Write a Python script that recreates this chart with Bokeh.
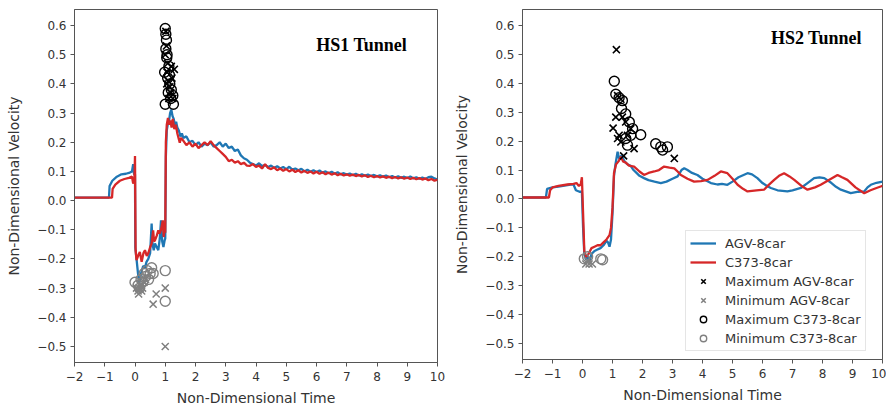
from bokeh.plotting import figure
from bokeh.layouts import row
from bokeh.models import Range1d, FixedTicker, Label, Legend, LegendItem
from bokeh.embed import file_html
from bokeh.resources import INLINE

# ---------------- data ----------------
X_TICKS = [-2, -1, 0, 1, 2, 3, 4, 5, 6, 7, 8, 9, 10]
X_TICK_LABELS = ["\u22122", "\u22121", "0", "1", "2", "3", "4", "5", "6", "7", "8", "9", "10"]
Y_TICKS = [-0.5, -0.4, -0.3, -0.2, -0.1, 0.0, 0.1, 0.2, 0.3, 0.4, 0.5, 0.6]
Y_TICK_LABELS = ["\u22120.5", "\u22120.4", "\u22120.3", "\u22120.2", "\u22120.1", "0.0",
                 "0.1", "0.2", "0.3", "0.4", "0.5", "0.6"]

PANEL_TITLES = ["HS1 Tunnel", "HS2 Tunnel"]
SERIES_NAMES = ["AGV-8car", "C373-8car", "Maximum AGV-8car", "Minimum AGV-8car",
                "Maximum C373-8car", "Minimum C373-8car"]

# HS1 tunnel, AGV-8car line
hs1_agv_t = [-2.0, -0.86, -0.84, -0.75, -0.6, -0.45, -0.3, -0.17, -0.1, -0.06, -0.03, 0.0,
             0.01, 0.05, 0.1, 0.14, 0.2, 0.27, 0.33, 0.38, 0.44, 0.5, 0.55, 0.58, 0.62, 0.66,
             0.72, 0.77, 0.82, 0.86, 0.9, 0.94, 0.98, 1.0, 1.02, 1.05, 1.08, 1.12, 1.16, 1.2,
             1.24, 1.28, 1.32, 1.36, 1.4, 1.45, 1.5, 1.55, 1.6, 1.7, 1.8, 1.9, 2.0, 2.1, 2.2,
             2.3, 2.4, 2.5, 2.6, 2.7, 2.8, 2.9, 3.0, 3.1, 3.2, 3.3, 3.4, 3.5, 3.6, 3.7, 3.8,
             3.9, 4.0, 4.1, 4.2, 4.3, 4.4, 4.5, 4.6, 4.7, 4.8, 4.9, 5.0, 5.1, 5.2, 5.3, 5.4,
             5.5, 5.6, 5.7, 5.8, 5.9, 6.0, 6.1, 6.2, 6.3, 6.4, 6.5, 6.6, 6.7, 6.8, 6.9, 7.0,
             7.1, 7.2, 7.3, 7.4, 7.5, 7.6, 7.7, 7.8, 7.9, 8.0, 8.1, 8.2, 8.3, 8.4, 8.5, 8.6,
             8.7, 8.8, 8.9, 9.0, 9.1, 9.2, 9.3, 9.4, 9.5, 9.6, 9.7, 9.8, 9.9, 10.0]
hs1_agv_v = [0.01, 0.01, 0.05, 0.068, 0.082, 0.09, 0.092, 0.096, 0.1, 0.125, 0.09, 0.09,
             -0.16, -0.2, -0.25, -0.283, -0.25, -0.224, -0.23, -0.21, -0.2, -0.18, -0.079, -0.15,
             -0.17, -0.147, -0.16, -0.17, -0.13, -0.068, -0.14, -0.159, -0.136, -0.13, 0.15, 0.24,
             0.26, 0.27, 0.3, 0.312, 0.29, 0.28, 0.26, 0.27, 0.25, 0.24, 0.22, 0.23, 0.215, 0.22,
             0.2, 0.205, 0.19, 0.2, 0.185, 0.195, 0.19, 0.2, 0.185, 0.19, 0.2, 0.185, 0.195, 0.18,
             0.185, 0.17, 0.175, 0.155, 0.145, 0.14, 0.13, 0.125, 0.12, 0.128, 0.118, 0.122,
             0.115, 0.12, 0.112, 0.118, 0.11, 0.115, 0.108, 0.116, 0.106, 0.11, 0.104, 0.109,
             0.1, 0.106, 0.099, 0.104, 0.098, 0.103, 0.096, 0.1, 0.094, 0.099, 0.092, 0.097,
             0.09, 0.094, 0.089, 0.093, 0.087, 0.092, 0.086, 0.09, 0.085, 0.089, 0.084, 0.088,
             0.083, 0.087, 0.082, 0.086, 0.08, 0.084, 0.079, 0.083, 0.078, 0.082, 0.077, 0.083,
             0.076, 0.08, 0.075, 0.079, 0.074, 0.08, 0.082, 0.076, 0.072]

# HS1 tunnel, C373-8car line
hs1_c373_t = [-2.0, -0.76, -0.74, -0.65, -0.5, -0.35, -0.2, -0.1, -0.06, -0.02, 0.0, 0.02,
              0.05, 0.1, 0.16, 0.22, 0.28, 0.33, 0.39, 0.44, 0.5, 0.55, 0.6, 0.63, 0.66, 0.72,
              0.77, 0.81, 0.86, 0.92, 0.95, 0.98, 1.0, 1.02, 1.05, 1.09, 1.13, 1.17, 1.21, 1.25,
              1.3, 1.35, 1.4, 1.45, 1.48, 1.52, 1.6, 1.7, 1.8, 1.9, 2.0, 2.1, 2.2, 2.3, 2.4, 2.5,
              2.6, 2.7, 2.8, 2.9, 3.0, 3.1, 3.2, 3.3, 3.4, 3.5, 3.6, 3.7, 3.8, 3.9, 4.0, 4.1,
              4.2, 4.3, 4.4, 4.5, 4.6, 4.7, 4.8, 4.9, 5.0, 5.1, 5.2, 5.3, 5.4, 5.5, 5.6, 5.7,
              5.8, 5.9, 6.0, 6.1, 6.2, 6.3, 6.4, 6.5, 6.6, 6.7, 6.8, 6.9, 7.0, 7.1, 7.2, 7.3,
              7.4, 7.5, 7.6, 7.7, 7.8, 7.9, 8.0, 8.1, 8.2, 8.3, 8.4, 8.5, 8.6, 8.7, 8.8, 8.9,
              9.0, 9.1, 9.2, 9.3, 9.4, 9.5, 9.6, 9.7, 9.8, 9.9, 10.0]
hs1_c373_v = [0.01, 0.01, 0.04, 0.055, 0.068, 0.074, 0.078, 0.082, 0.058, 0.07, 0.153, -0.17,
              -0.204, -0.19, -0.176, -0.21, -0.18, -0.17, -0.19, -0.18, -0.16, -0.147, -0.102,
              -0.14, -0.136, -0.12, -0.102, -0.113, -0.1, -0.068, -0.125, -0.1, -0.11, 0.2, 0.26,
              0.283, 0.26, 0.275, 0.25, 0.28, 0.245, 0.26, 0.23, 0.21, 0.198, 0.215, 0.205, 0.19,
              0.2, 0.185, 0.195, 0.18, 0.19, 0.2, 0.19, 0.204, 0.19, 0.18, 0.17, 0.16, 0.15,
              0.135, 0.14, 0.13, 0.135, 0.125, 0.13, 0.12, 0.119, 0.125, 0.115, 0.12, 0.11,
              0.125, 0.112, 0.108, 0.114, 0.104, 0.11, 0.102, 0.108, 0.1, 0.106, 0.098, 0.104,
              0.096, 0.102, 0.095, 0.1, 0.093, 0.099, 0.092, 0.097, 0.09, 0.096, 0.089, 0.094,
              0.087, 0.092, 0.086, 0.09, 0.085, 0.089, 0.084, 0.088, 0.083, 0.087, 0.081, 0.085,
              0.08, 0.084, 0.079, 0.083, 0.078, 0.082, 0.077, 0.081, 0.076, 0.08, 0.075, 0.079,
              0.074, 0.078, 0.073, 0.077, 0.072, 0.076, 0.07, 0.074, 0.068, 0.072, 0.066, 0.068]

# HS2 tunnel, AGV-8car line
hs2_agv_t = [-2.0, -1.22, -1.18, -1.0, -0.8, -0.6, -0.4, -0.3, -0.22, -0.1, -0.02, 0.02,
             0.06, 0.12, 0.18, 0.24, 0.3, 0.4, 0.5, 0.6, 0.7, 0.8, 0.85, 0.9, 0.95, 1.0, 1.05,
             1.1, 1.17, 1.22, 1.3, 1.4, 1.5, 1.6, 1.7, 1.8, 1.9, 2.05, 2.2, 2.4, 2.61, 2.8, 3.0,
             3.17, 3.3, 3.39, 3.5, 3.65, 3.83, 4.0, 4.15, 4.28, 4.5, 4.65, 4.83, 5.0, 5.2, 5.35,
             5.5, 5.65, 5.83, 6.0, 6.15, 6.28, 6.5, 6.83, 7.0, 7.28, 7.5, 7.72, 7.9, 8.06, 8.3,
             8.45, 8.61, 8.94, 9.2, 9.39, 9.5, 9.61, 9.8, 10.0]
hs2_agv_v = [0.005, 0.005, 0.035, 0.04, 0.043, 0.046, 0.05, 0.05, 0.03, 0.025, 0.025, -0.1,
             -0.19, -0.21, -0.2, -0.215, -0.19, -0.18, -0.175, -0.17, -0.16, -0.145, -0.15,
             -0.165, -0.14, -0.05, 0.08, 0.12, 0.163, 0.14, 0.15, 0.13, 0.12, 0.115, 0.1, 0.09,
             0.08, 0.072, 0.065, 0.06, 0.055, 0.06, 0.07, 0.078, 0.1, 0.106, 0.1, 0.09, 0.083,
             0.07, 0.062, 0.055, 0.05, 0.052, 0.049, 0.06, 0.075, 0.082, 0.089, 0.085, 0.072,
             0.055, 0.045, 0.038, 0.03, 0.026, 0.03, 0.038, 0.055, 0.072, 0.075, 0.072, 0.055,
             0.042, 0.032, 0.02, 0.025, 0.026, 0.04, 0.049, 0.056, 0.06]

# HS2 tunnel, C373-8car line
hs2_c373_t = [-2.0, -1.12, -1.08, -1.0, -0.8, -0.5, -0.3, -0.2, -0.12, -0.06, -0.02, 0.02,
              0.06, 0.12, 0.2, 0.3, 0.4, 0.5, 0.6, 0.7, 0.8, 0.9, 0.95, 1.0, 1.05, 1.12, 1.2,
              1.28, 1.35, 1.45, 1.55, 1.72, 1.9, 2.05, 2.2, 2.39, 2.55, 2.72, 2.9, 3.06, 3.17,
              3.28, 3.5, 3.72, 3.95, 4.17, 4.4, 4.61, 4.83, 5.0, 5.17, 5.35, 5.5, 5.8, 6.05, 6.2,
              6.39, 6.55, 6.72, 6.9, 7.06, 7.3, 7.5, 7.75, 7.94, 8.2, 8.5, 8.65, 8.83, 9.1, 9.39,
              9.6, 9.8, 9.94, 10.0]
hs2_c373_v = [0.005, 0.005, 0.03, 0.04, 0.045, 0.05, 0.052, 0.055, 0.045, 0.05, 0.075, -0.05,
              -0.18, -0.2, -0.19, -0.17, -0.165, -0.16, -0.16, -0.15, -0.14, -0.125, -0.1,
              -0.03, 0.09, 0.12, 0.13, 0.146, 0.13, 0.125, 0.115, 0.112, 0.095, 0.083, 0.09,
              0.095, 0.1, 0.112, 0.108, 0.106, 0.095, 0.083, 0.07, 0.06, 0.062, 0.066, 0.08,
              0.095, 0.089, 0.07, 0.049, 0.035, 0.026, 0.03, 0.032, 0.048, 0.066, 0.08, 0.089,
              0.078, 0.066, 0.045, 0.032, 0.04, 0.049, 0.065, 0.083, 0.075, 0.066, 0.04, 0.02,
              0.03, 0.038, 0.043, 0.045]

# HS1 tunnel scatter points
hs1_max_agv_t = [1.02, 1.04, 1.0, 1.08, 1.3, 1.2, 1.06, 1.1, 1.15, 1.22, 1.18, 1.25, 1.12, 1.05]
hs1_max_agv_v = [0.58, 0.53, 0.5, 0.47, 0.45, 0.46, 0.44, 0.41, 0.39, 0.42, 0.37, 0.35, 0.35, 0.4]
hs1_min_agv_t = [0.05, 0.1, 0.15, 0.2, 0.25, 0.3, 0.12, 0.6, 0.7, 1.0, 1.0, 0.35, 0.22]
hs1_min_agv_v = [-0.3, -0.31, -0.3, -0.29, -0.3, -0.28, -0.32, -0.355, -0.32, -0.3, -0.5, -0.27, -0.31]
hs1_max_c373_t = [1.0, 1.02, 1.04, 1.02, 1.05, 0.98, 1.08, 1.12, 1.15, 1.2, 1.1, 1.25, 1.18,
                  1.0, 1.27, 1.06, 1.14]
hs1_max_c373_v = [0.59, 0.57, 0.55, 0.52, 0.49, 0.44, 0.42, 0.46, 0.4, 0.38, 0.37, 0.36, 0.35,
                  0.33, 0.33, 0.5, 0.43]
hs1_min_c373_t = [0.0, 0.1, 0.2, 0.3, 0.4, 0.5, 0.6, 0.45, 0.35, 0.55, 0.25, 1.0, 1.0, 0.15]
hs1_min_c373_v = [-0.28, -0.29, -0.27, -0.25, -0.24, -0.25, -0.25, -0.27, -0.26, -0.23, -0.28,
                  -0.24, -0.345, -0.3]

# HS2 tunnel scatter points
hs2_max_agv_t = [1.13, 1.02, 1.17, 1.28, 1.33, 1.17, 1.28, 1.44, 1.5, 1.72, 1.37, 3.06, 1.11,
                 1.22, 1.61]
hs2_max_agv_v = [0.516, 0.245, 0.357, 0.345, 0.283, 0.209, 0.197, 0.266, 0.22, 0.174, 0.149,
                 0.14, 0.283, 0.22, 0.243]
hs2_min_agv_t = [0.11, 0.22, 0.33, 0.17]
hs2_min_agv_v = [-0.225, -0.225, -0.225, -0.213]
hs2_max_c373_t = [1.06, 1.11, 1.22, 1.33, 1.3, 1.44, 1.56, 1.67, 1.94, 2.44, 2.61, 2.83, 2.67,
                  1.61, 1.44, 1.5]
hs2_max_c373_v = [0.407, 0.362, 0.35, 0.34, 0.313, 0.294, 0.266, 0.243, 0.222, 0.191, 0.18,
                  0.18, 0.169, 0.22, 0.209, 0.186]
hs2_min_c373_t = [0.17, 0.67, 0.61, 0.06]
hs2_min_c373_v = [-0.2, -0.21, -0.207, -0.207]

# ---------------- styling ----------------
BLUE = "#1f77b4"
RED = "#d62728"
GREY = "#808080"
FONT = "DejaVu Sans"


def make_panel(width, height, border_left, border_right, border_top, title, title_x, title_y):
    p = figure(width=width, height=height, x_range=Range1d(-2, 10),
               y_range=Range1d(-0.555, 0.655), output_backend="svg",
               toolbar_location=None, min_border_left=border_left,
               min_border_right=border_right, min_border_top=border_top,
               min_border_bottom=46, background_fill_color="white",
               border_fill_color="white", outline_line_color="#555555",
               outline_line_width=1)
    p.xgrid.visible = False
    p.ygrid.visible = False
    for ax in (p.xaxis, p.yaxis):
        ax.major_label_text_font = FONT
        ax.major_label_text_font_size = "12px"
        ax.major_label_text_color = "#333333"
        ax.axis_label_text_font = FONT
        ax.axis_label_text_font_size = "14px"
        ax.axis_label_text_font_style = "normal"
        ax.axis_label_text_color = "#333333"
        ax.axis_line_color = "#555555"
        ax.major_tick_line_color = "#555555"
        ax.minor_tick_line_color = None
        ax.major_tick_out = 4
        ax.major_tick_in = 0
    p.xaxis.major_label_standoff = 5
    p.yaxis.major_label_standoff = 4
    p.xaxis.ticker = FixedTicker(ticks=X_TICKS)
    p.xaxis.major_label_overrides = {t: s for t, s in zip(X_TICKS, X_TICK_LABELS)}
    p.yaxis.ticker = FixedTicker(ticks=Y_TICKS)
    p.yaxis.major_label_overrides = {t: s for t, s in zip(Y_TICKS, Y_TICK_LABELS)}
    p.xaxis.axis_label = "Non-Dimensional Time"
    p.yaxis.axis_label = "Non-Dimensional Velocity"
    p.xaxis.axis_label_standoff = 6
    p.yaxis.axis_label_standoff = 12
    p.add_layout(Label(x=title_x, y=title_y, text=title, text_font="Liberation Serif",
                       text_font_style="bold", text_font_size="18px",
                       text_baseline="middle", text_align="left", text_color="black"))
    return p


def draw(p, agv_t, agv_v, c373_t, c373_v, max_agv, min_agv, max_c373, min_c373):
    r_agv = p.line(agv_t, agv_v, line_color=BLUE, line_width=2.3)
    r_c373 = p.line(c373_t, c373_v, line_color=RED, line_width=2.3)
    r_max_agv = p.scatter(max_agv[0], max_agv[1], marker="x", size=10,
                          line_color="black", line_width=1.6)
    r_min_agv = p.scatter(min_agv[0], min_agv[1], marker="x", size=10,
                          line_color=GREY, line_width=1.5)
    r_max_c373 = p.scatter(max_c373[0], max_c373[1], marker="circle", size=10,
                           fill_color=None, line_color="black", line_width=1.4)
    r_min_c373 = p.scatter(min_c373[0], min_c373[1], marker="circle", size=10,
                           fill_color=None, line_color=GREY, line_width=1.4)
    return [r_agv, r_c373, r_max_agv, r_min_agv, r_max_c373, r_min_c373]


p1 = make_panel(448, 408, 74, 11, 9, PANEL_TITLES[0], 5.99, 0.534)
draw(p1, hs1_agv_t, hs1_agv_v, hs1_c373_t, hs1_c373_v,
     (hs1_max_agv_t, hs1_max_agv_v), (hs1_min_agv_t, hs1_min_agv_v),
     (hs1_max_c373_t, hs1_max_c373_v), (hs1_min_c373_t, hs1_min_c373_v))

p2 = make_panel(438, 405, 74, 4, 7, PANEL_TITLES[1], 6.28, 0.556)
rs = draw(p2, hs2_agv_t, hs2_agv_v, hs2_c373_t, hs2_c373_v,
          (hs2_max_agv_t, hs2_max_agv_v), (hs2_min_agv_t, hs2_min_agv_v),
          (hs2_max_c373_t, hs2_max_c373_v), (hs2_min_c373_t, hs2_min_c373_v))

legend = Legend(items=[LegendItem(label=n, renderers=[r]) for n, r in zip(SERIES_NAMES, rs)],
                location=(163, 8), padding=4, spacing=3,
                glyph_width=26, glyph_height=16, label_height=16, label_standoff=9,
                label_text_font=FONT, label_text_font_size="13px",
                label_text_color="#333333", border_line_color="#cccccc",
                border_line_width=1, background_fill_color="white",
                background_fill_alpha=0.9)
p2.add_layout(legend)

layout = row(p1, p2)
open("out.html", "w").write(file_html(layout, INLINE))
